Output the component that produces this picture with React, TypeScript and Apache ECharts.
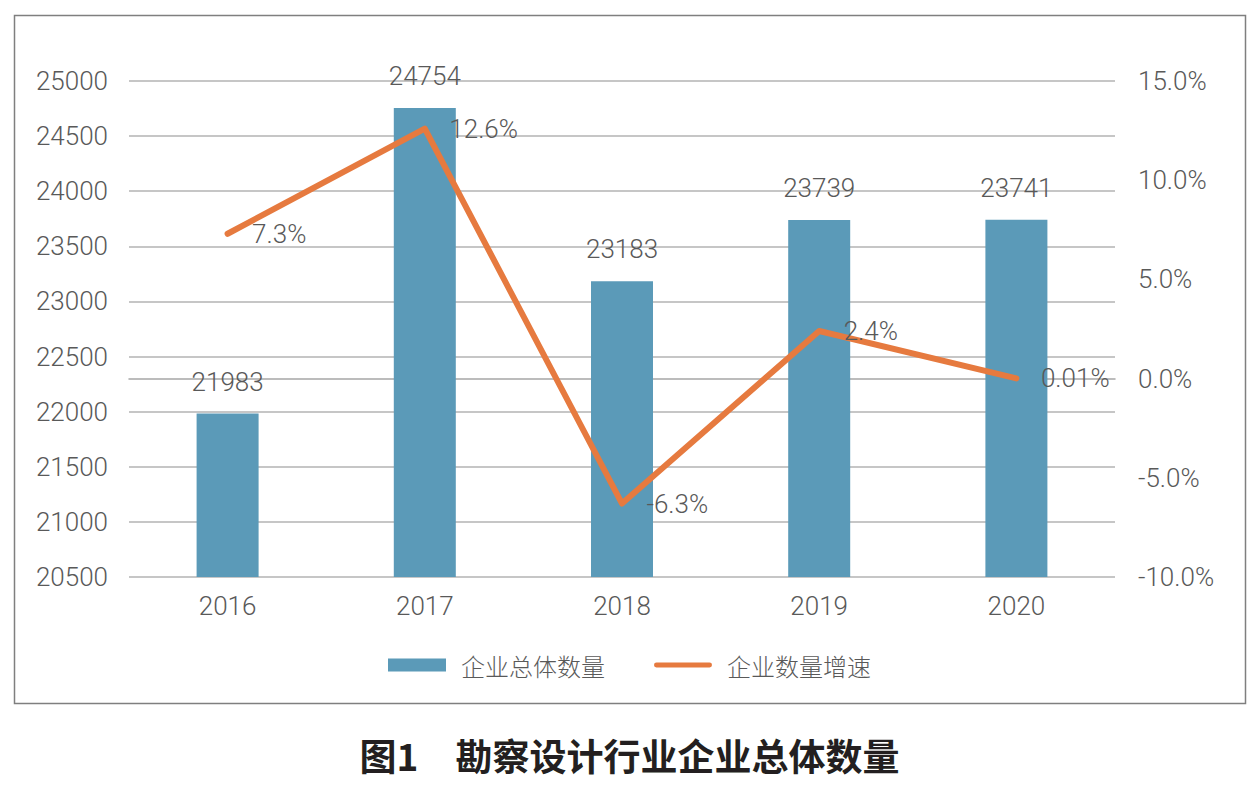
import React, { useEffect, useRef } from "react";
import * as echarts from "echarts";

const categories = ["2016", "2017", "2018", "2019", "2020"];
const totalCounts = [21983, 24754, 23183, 23739, 23741];
const growthRates = [7.3, 12.6, -6.3, 2.4, 0.01];
const seriesNames = ["企业总体数量", "企业数量增速"];
const titleText = "图1\u3000勘察设计行业企业总体数量";

const textColor = "#595959";
const numFont = "Roboto, 'Liberation Sans', sans-serif";
const cjkFont = "'Noto Sans CJK SC', sans-serif";
const lineIcon =
  "path://M2.5,0 H57.5 A2.5,2.5 0 0 1 57.5,5 H2.5 A2.5,2.5 0 0 1 2.5,0 Z";

export default function App() {
  const ref = useRef<HTMLDivElement>(null);
  useEffect(() => {
    if (!ref.current) return;
    const chart = echarts.init(ref.current, undefined, { renderer: "svg" });
    chart.setOption({
      animation: false,
      backgroundColor: "#ffffff",
      title: {
        text: titleText,
        left: "center",
        top: 731,
        textStyle: {
          fontSize: 37,
          fontWeight: "bold",
          color: "#231f20",
          fontFamily: cjkFont,
        },
      },
      graphic: [
        {
          type: "rect",
          shape: { x: 14.5, y: 15.5, width: 1231, height: 688 },
          style: { fill: "none", stroke: "#7f7f7f", lineWidth: 1.5 },
          silent: true,
        },
      ],
      legend: {
        left: "center",
        top: 648,
        itemWidth: 58,
        itemHeight: 13,
        itemGap: 49,
        textStyle: {
          fontSize: 24,
          color: textColor,
          fontFamily: cjkFont,
          fontWeight: 300,
          padding: [0, 0, 0, 10],
        },
        data: [
          { name: seriesNames[0], icon: "rect" },
          { name: seriesNames[1], icon: lineIcon, itemStyle: { color: "#e67a3f" } },
        ],
      },
      grid: { left: 129, right: 144, top: 81, bottom: 216, containLabel: false },
      xAxis: {
        type: "category",
        data: categories,
        axisTick: { show: false },
        axisLine: { lineStyle: { color: "#a6a6a6", width: 1.5 } },
        axisLabel: {
          fontSize: 26,
          color: textColor,
          fontFamily: numFont,
          fontWeight: 300,
          margin: 16,
        },
      },
      yAxis: [
        {
          type: "value",
          min: 20500,
          max: 25000,
          interval: 500,
          axisLine: { show: false },
          axisTick: { show: false },
          splitLine: { lineStyle: { color: "#b3b3b3", width: 1.5 } },
          axisLabel: {
            fontSize: 26,
            color: textColor,
            fontFamily: numFont,
            fontWeight: 300,
            margin: 21,
            formatter: (v: number) => String(v),
          },
        },
        {
          type: "value",
          min: -10,
          max: 15,
          interval: 5,
          axisLine: { show: false },
          axisTick: { show: false },
          splitLine: { show: false },
          axisLabel: {
            fontSize: 26,
            color: textColor,
            fontFamily: numFont,
            fontWeight: 300,
            margin: 23,
            formatter: (v: number) => v.toFixed(1) + "%",
          },
        },
      ],
      series: [
        {
          name: seriesNames[0],
          type: "bar",
          data: totalCounts,
          barWidth: 62,
          itemStyle: { color: "#5b9ab8" },
          label: {
            show: true,
            position: "top",
            distance: 19,
            fontSize: 26,
            color: textColor,
            fontFamily: numFont,
            fontWeight: 300,
          },
        },
        {
          name: seriesNames[1],
          type: "line",
          yAxisIndex: 1,
          data: growthRates,
          symbol: "circle",
          symbolSize: 1,
          itemStyle: { color: "#e67a3f" },
          lineStyle: { color: "#e67a3f", width: 6, cap: "round", join: "round" },
          label: {
            show: true,
            position: "right",
            distance: 24,
            fontSize: 26,
            color: textColor,
            fontFamily: numFont,
            fontWeight: 300,
            formatter: (p: any) => String(p.value) + "%",
          },
        },
      ],
    });
    return () => chart.dispose();
  }, []);
  return (
    <div
      ref={ref}
      style={{ position: "fixed", left: 0, top: 0, width: 1259, height: 793, background: "#fff" }}
    />
  );
}
